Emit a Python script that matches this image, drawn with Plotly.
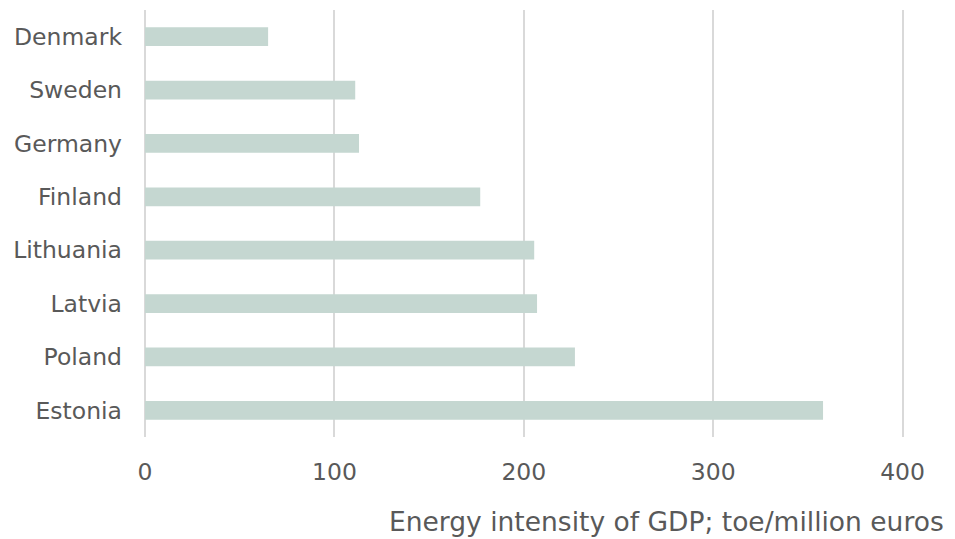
import plotly.graph_objects as go

# Energy intensity of GDP by country (toe per million euros)
countries = ["Denmark", "Sweden", "Germany", "Finland", "Lithuania", "Latvia", "Poland", "Estonia"]
intensity = [65, 111, 113, 177, 205.5, 207, 227, 358]
x_ticks = [0, 100, 200, 300, 400]
axis_label = "Energy intensity of GDP; toe/million euros"

BAR = "#c5d7d1"
GRID = "#d9d9d9"
TEXT = "#595959"
FONT = "DejaVu Sans"

W, H = 955, 539
ML, MR, MT, MB = 145, 24, 10, 102

fig = go.Figure(
    go.Bar(
        x=intensity,
        y=countries,
        orientation="h",
        marker=dict(color=BAR, line=dict(width=0)),
        width=0.35,
        hoverinfo="x+y",
    )
)

fig.update_layout(
    width=W,
    height=H,
    margin=dict(l=ML, r=MR, t=MT, b=MB, pad=0),
    paper_bgcolor="white",
    plot_bgcolor="white",
    showlegend=False,
    font=dict(family=FONT, size=23.5, color=TEXT),
    xaxis=dict(
        range=[0, 415],
        tickvals=x_ticks,
        ticktext=[str(v) for v in x_ticks],
        showgrid=True,
        gridcolor=GRID,
        gridwidth=1.5,
        zeroline=True,
        zerolinecolor=GRID,
        zerolinewidth=1.5,
        showline=False,
        ticks="",
        ticklabelstandoff=18,
        tickfont=dict(family=FONT, size=23.5, color=TEXT),
        fixedrange=True,
    ),
    yaxis=dict(
        categoryorder="array",
        categoryarray=countries[::-1],
        showgrid=False,
        zeroline=False,
        showline=False,
        ticks="",
        ticklabelstandoff=22,
        tickfont=dict(family=FONT, size=23.5, color=TEXT),
        fixedrange=True,
    ),
    annotations=[
        dict(
            text=axis_label,
            xref="paper",
            yref="paper",
            x=(946 - ML) / (W - ML - MR),
            y=-(521 - (H - MB)) / (H - MT - MB),
            xanchor="right",
            yanchor="middle",
            showarrow=False,
            font=dict(family=FONT, size=26.5, color=TEXT),
        )
    ],
)

fig.write_html("out.html")
